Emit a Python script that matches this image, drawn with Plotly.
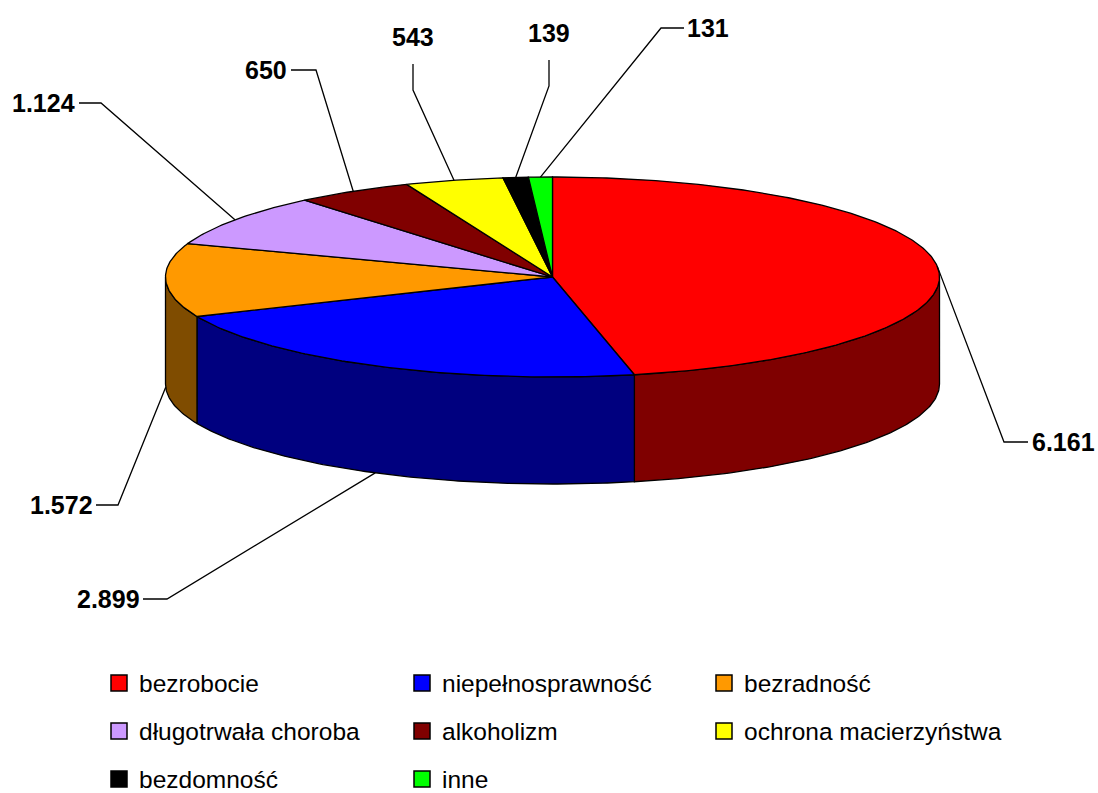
import numpy as np
import plotly.graph_objects as go

# ---------------- data ----------------
categories = ["bezrobocie", "niepełnosprawność", "bezradność", "długotrwała choroba",
              "alkoholizm", "ochrona macierzyństwa", "bezdomność", "inne"]
values = [6161, 2899, 1572, 1124, 650, 543, 139, 131]
colors = ["#FF0000", "#0000FF", "#FF9900", "#CC99FF",
          "#800000", "#FFFF00", "#000000", "#00FF00"]

# ---------------- geometry / layout constants ----------------
W, H = 1098, 793
CX, CY = 552.5, 277.0      # centre of the top face
RX, RY = 387.0, 100.0      # ellipse semi-axes
DEPTH = 107.0              # thickness of the pie

# label placement: (text x, text y, xanchor, elbow points from attach -> text)
LABEL_LAYOUT = [
    (1031, 442, "left",   [(1004, 442), (1028, 442)]),
    (141, 599, "right",   [(167, 599), (143, 599)]),
    (94, 505, "right",    [(118, 505), (96, 505)]),
    (76, 103, "right",    [(101, 103), (79, 103)]),
    (288, 70, "right",    [(316, 70), (291, 70)]),
    (413, 37, "center",   [(413, 90), (413, 64)]),
    (549, 33, "center",   [(549, 86), (549, 60)]),
    (686, 28, "left",     [(661, 28), (684, 28)]),
]
LEGEND_X = [111, 414, 716]
LEGEND_Y = [683, 731, 779]
SQ = 16

LABEL_FONT = dict(family="Liberation Sans, Arial", size=25, color="black", weight="bold")
LEGEND_FONT = dict(family="Liberation Sans, Arial", size=24.5, color="black")


def darker(hex_color):
    r, g, b = (int(hex_color[i:i + 2], 16) for i in (1, 3, 5))
    return "#{:02X}{:02X}{:02X}".format(r // 2, g // 2, b // 2)


def arc(t0, t1, dy=0.0, n=None):
    if n is None:
        n = max(4, int(abs(t1 - t0) * 1.5))
    t = np.radians(np.linspace(t0, t1, n))
    return CX + RX * np.sin(t), CY - RY * np.cos(t) + dy


total = float(sum(values))
cum = np.concatenate([[0.0], np.cumsum(values)]) / total * 360.0

fig = go.Figure()

# side walls (front half only: angles 90..270 measured clockwise from top)
for i, c in enumerate(colors):
    lo, hi = max(cum[i], 90.0), min(cum[i + 1], 270.0)
    if lo < hi:
        xt, yt = arc(lo, hi)
        xb, yb = arc(hi, lo, DEPTH)
        xs = np.concatenate([xt, xb, xt[:1]])
        ys = np.concatenate([yt, yb, yt[:1]])
        fig.add_trace(go.Scatter(x=xs, y=ys, mode="lines", fill="toself",
                                 fillcolor=darker(c), line=dict(color="black", width=1.3),
                                 hoverinfo="skip", showlegend=False))

# top faces
for i, c in enumerate(colors):
    xa, ya = arc(cum[i], cum[i + 1])
    xs = np.concatenate([[CX], xa, [CX]])
    ys = np.concatenate([[CY], ya, [CY]])
    fig.add_trace(go.Scatter(x=xs, y=ys, mode="lines", fill="toself",
                             fillcolor=c, line=dict(color="black", width=1.3),
                             hoverinfo="skip", showlegend=False, name=categories[i]))

# leader lines and value labels
annotations = []
for i, v in enumerate(values):
    mid = (cum[i] + cum[i + 1]) / 2.0
    dy = DEPTH if 90.0 < mid < 270.0 else 0.0
    ax, ay = arc(mid, mid, dy, n=1)
    tx, ty, anchor, elbow = LABEL_LAYOUT[i]
    lx = [ax[0]] + [p[0] for p in elbow]
    ly = [ay[0]] + [p[1] for p in elbow]
    fig.add_trace(go.Scatter(x=lx, y=ly, mode="lines",
                             line=dict(color="black", width=1.3),
                             hoverinfo="skip", showlegend=False))
    annotations.append(dict(x=tx, y=ty, xref="x", yref="y", text=f"{v:,}".replace(",", "."),
                            showarrow=False, xanchor=anchor, yanchor="middle",
                            font=LABEL_FONT, borderpad=0))

# legend (3 columns)
shapes = []
for i, (name, c) in enumerate(zip(categories, colors)):
    lx = LEGEND_X[i % 3]
    ly = LEGEND_Y[i // 3]
    shapes.append(dict(type="rect", xref="x", yref="y", x0=lx, x1=lx + SQ,
                       y0=ly - SQ / 2, y1=ly + SQ / 2, fillcolor=c,
                       line=dict(color="black", width=1.5)))
    annotations.append(dict(x=lx + SQ + 11, y=ly, xref="x", yref="y", text=name,
                            showarrow=False, xanchor="left", yanchor="middle",
                            font=LEGEND_FONT, borderpad=0))

fig.update_layout(
    width=W, height=H, margin=dict(l=0, r=0, t=0, b=0),
    paper_bgcolor="white", plot_bgcolor="white",
    xaxis=dict(range=[0, W], visible=False, fixedrange=True),
    yaxis=dict(range=[H, 0], visible=False, fixedrange=True),
    annotations=annotations, shapes=shapes, showlegend=False,
)

fig.write_html("out.html", config={"displayModeBar": False},
               post_script="document.body.style.margin='0px';")
